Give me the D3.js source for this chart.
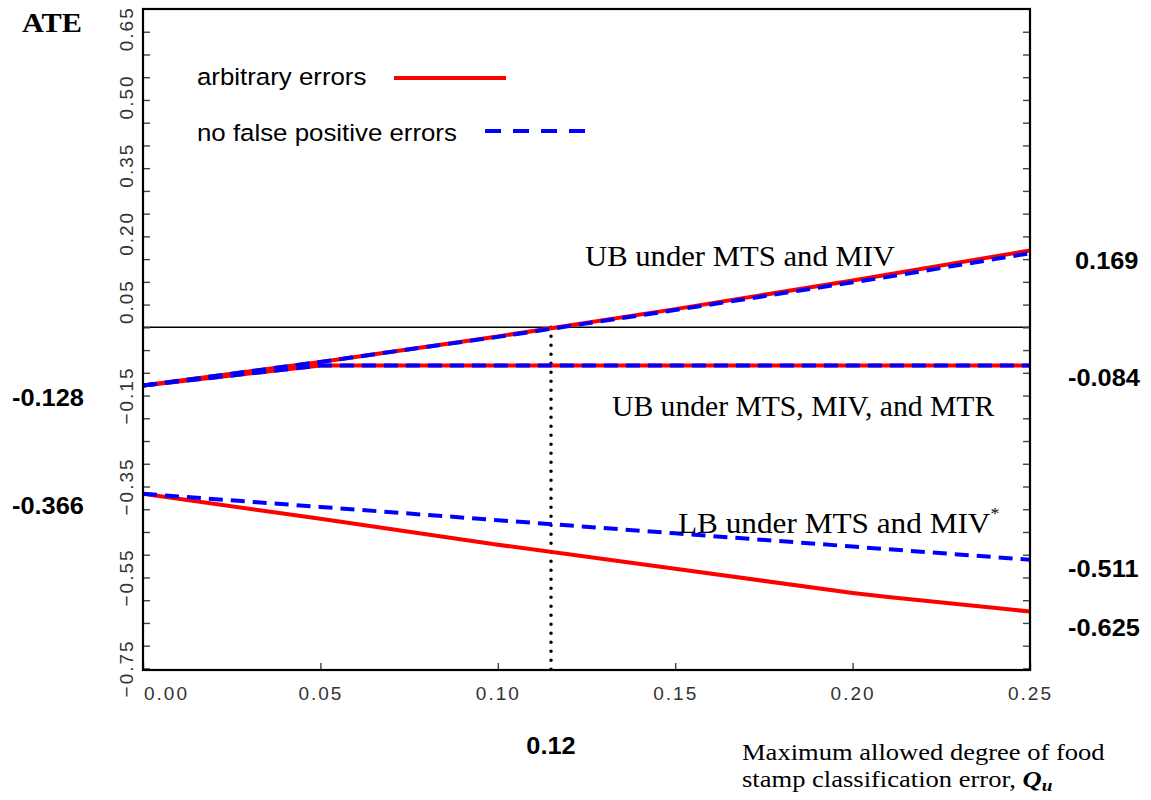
<!DOCTYPE html>
<html>
<head>
<meta charset="utf-8">
<script src="https://cdn.jsdelivr.net/npm/d3@7"></script>
<style>
  body { margin: 0; background: #fff; }
  .tick text { font-family: "Liberation Sans", Arial, sans-serif; font-size: 19px; fill: #333; letter-spacing: 2px; }
  .tick line { stroke: #444; stroke-width: 1.4; }
</style>
</head>
<body>
<div id="chart"></div>
<script>
/* data */
var qu = [0, 0.05, 0.10, 0.15, 0.20, 0.21, 0.25];
var ubMivRed  = [-0.128, -0.076, -0.020, 0.040, 0.103, 0.116, 0.169];
var ubMivBlue = [-0.128, -0.076, -0.021, 0.038, 0.099, 0.111, 0.163];
var ubMtrRed  = [-0.128, -0.084, -0.084, -0.084, -0.084, -0.084, -0.084];
var ubMtrBlue = [-0.128, -0.084, -0.084, -0.084, -0.084, -0.084, -0.084];
var lbRed     = [-0.366, -0.421, -0.478, -0.531, -0.584, -0.593, -0.625];
var lbBlue    = [-0.366, -0.395, -0.424, -0.453, -0.482, -0.488, -0.511];
var crossing = 0.115;
var yTickLabels = [0.05, 0.20, 0.35, 0.50, 0.65, -0.15, -0.35, -0.55, -0.75];
var xTicks = [0, 0.05, 0.10, 0.15, 0.20, 0.25];
var rightLabels = [0.169, -0.084, -0.511, -0.625];
var leftLabels = [-0.128, -0.366];

var W = 1151, H = 800;
var m = {left: 143, right: 121, top: 9, bottom: 130};

var svg = d3.select("#chart").append("svg")
  .attr("width", W).attr("height", H);

var x = d3.scaleLinear().domain([0, 0.25]).range([m.left, W - m.right]);
var y = d3.scaleLinear().domain([-0.7535, 0.70]).range([H - m.bottom, m.top]);

// text helper, sx stretches a little sideways like the picture does
function txt(px, py, s, font, size, weight, sx) {
  return svg.append("text")
    .attr("transform", "translate(" + px + "," + py + ") scale(" + (sx || 1.13) + ",1)")
    .attr("font-family", font).attr("font-size", size + "px")
    .attr("font-weight", weight || "normal")
    .text(s);
}

// zero line
svg.append("line")
  .attr("x1", x(0)).attr("x2", x(0.25)).attr("y1", y(0)).attr("y2", y(0))
  .attr("stroke", "#000").attr("stroke-width", 1.5);

// dotted line at the crossing
svg.append("line")
  .attr("x1", x(crossing)).attr("x2", x(crossing)).attr("y1", y(0)).attr("y2", y.range()[0])
  .attr("stroke", "#000").attr("stroke-width", 3.5)
  .attr("stroke-dasharray", "0,9").attr("stroke-linecap", "round");

var line = d3.line().x(function(d){ return x(d[0]); }).y(function(d){ return y(d[1]); });
function series(vals) { return qu.map(function(q, i){ return [q, vals[i]]; }); }

[ubMivRed, ubMtrRed, lbRed].forEach(function(v){
  svg.append("path").attr("d", line(series(v)))
    .attr("fill", "none").attr("stroke", "#ff0000").attr("stroke-width", 4);
});
[ubMivBlue, ubMtrBlue, lbBlue].forEach(function(v){
  svg.append("path").attr("d", line(series(v)))
    .attr("fill", "none").attr("stroke", "#0000ff").attr("stroke-width", 4)
    .attr("stroke-dasharray", "14,8");
});

// axes
var yMinor = d3.range(-75, 70, 5).map(function(d){ return d / 100; });
svg.append("g").attr("transform", "translate(" + x(0) + ",0)")
  .call(d3.axisLeft(y).tickValues(yMinor).tickSize(-7).tickFormat(""))
  .call(function(g){ g.select(".domain").remove(); });
svg.append("g").attr("transform", "translate(" + x(0.25) + ",0)")
  .call(d3.axisRight(y).tickValues(yMinor).tickSize(-7).tickFormat(""))
  .call(function(g){ g.select(".domain").remove(); });
var xAxis = svg.append("g").attr("transform", "translate(0," + y.range()[0] + ")")
  .call(d3.axisBottom(x).tickValues(xTicks).tickSize(-7).tickPadding(17).tickFormat(d3.format(".2f")))
  .call(function(g){ g.select(".domain").remove(); });
xAxis.selectAll(".tick").filter(function(d){ return d === 0; }).select("text").attr("dx", 23);

// frame
svg.append("rect")
  .attr("x", x(0)).attr("y", y.range()[1])
  .attr("width", x(0.25) - x(0)).attr("height", y.range()[0] - y.range()[1])
  .attr("fill", "none").attr("stroke", "#000").attr("stroke-width", 2.2);

// rotated y labels
svg.selectAll(".ylab").data(yTickLabels).enter().append("text")
  .attr("class", "ylab")
  .attr("transform", function(d){ return "translate(133," + (y(d) - (d > 0 ? 3 : 0)) + ") rotate(-90)"; })
  .attr("text-anchor", "middle")
  .attr("font-family", "Liberation Sans, Arial, sans-serif").attr("font-size", "19px")
  .attr("fill", "#333").attr("letter-spacing", "2px")
  .text(function(d){ return d3.format(".2f")(d).replace("-", "\u2212"); });

// title
var serif = "Liberation Serif, Times New Roman, serif";
var sans = "Liberation Sans, Arial, sans-serif";
txt(22, 32, "ATE", serif, 28, "bold", 1.08);

// legend
txt(197, 85, "arbitrary errors", sans, 23.5, "normal", 1.1);
svg.append("line").attr("x1", 394).attr("x2", 506).attr("y1", 78).attr("y2", 78)
  .attr("stroke", "#ff0000").attr("stroke-width", 4);
txt(197, 141, "no false positive errors", sans, 23.5, "normal", 1.1);
svg.append("line").attr("x1", 485).attr("x2", 586).attr("y1", 131).attr("y2", 131)
  .attr("stroke", "#0000ff").attr("stroke-width", 4).attr("stroke-dasharray", "16,12");

// curve annotations
txt(585, 266, "UB under MTS and MIV", serif, 29.5, "normal", 1.04);
txt(612, 416, "UB under MTS, MIV, and MTR", serif, 28.5, "normal", 1.04);
var lb = txt(678, 533, "LB under MTS and MIV", serif, 29.5, "normal", 1.06);
lb.append("tspan").attr("dy", -14).attr("font-size", "17px").text("*");

// value labels
var fmt = function(v){ return d3.format(".3f")(v).replace("\u2212", "-"); };
var rightDy = [19, 20, 17, 24];
rightLabels.forEach(function(v, i){
  txt(v > 0 ? 1075 : 1068, y(v) + rightDy[i], fmt(v), sans, 23.5, "bold", 1.08);
});
leftLabels.forEach(function(v){
  txt(12, y(v) + 20, fmt(v), sans, 23.5, "bold", 1.08);
});
svg.append("text").attr("transform", "translate(" + x(crossing) + ",754) scale(1.08,1)")
  .attr("text-anchor", "middle").attr("font-family", sans).attr("font-size", "23.5px")
  .attr("font-weight", "bold").text(d3.format(".2f")(crossing + 0.001));

// x axis title
txt(742, 760, "Maximum allowed degree of food", serif, 23.5, "normal", 1.13);
var xt = txt(742, 787, "stamp classification error, ", serif, 23.5, "normal", 1.13);
xt.append("tspan").attr("font-weight", "bold").attr("font-style", "italic").text("Q");
xt.append("tspan").attr("font-weight", "bold").attr("font-style", "italic")
  .attr("font-size", "17px").attr("dy", 4).text("u");
</script>
</body>
</html>
